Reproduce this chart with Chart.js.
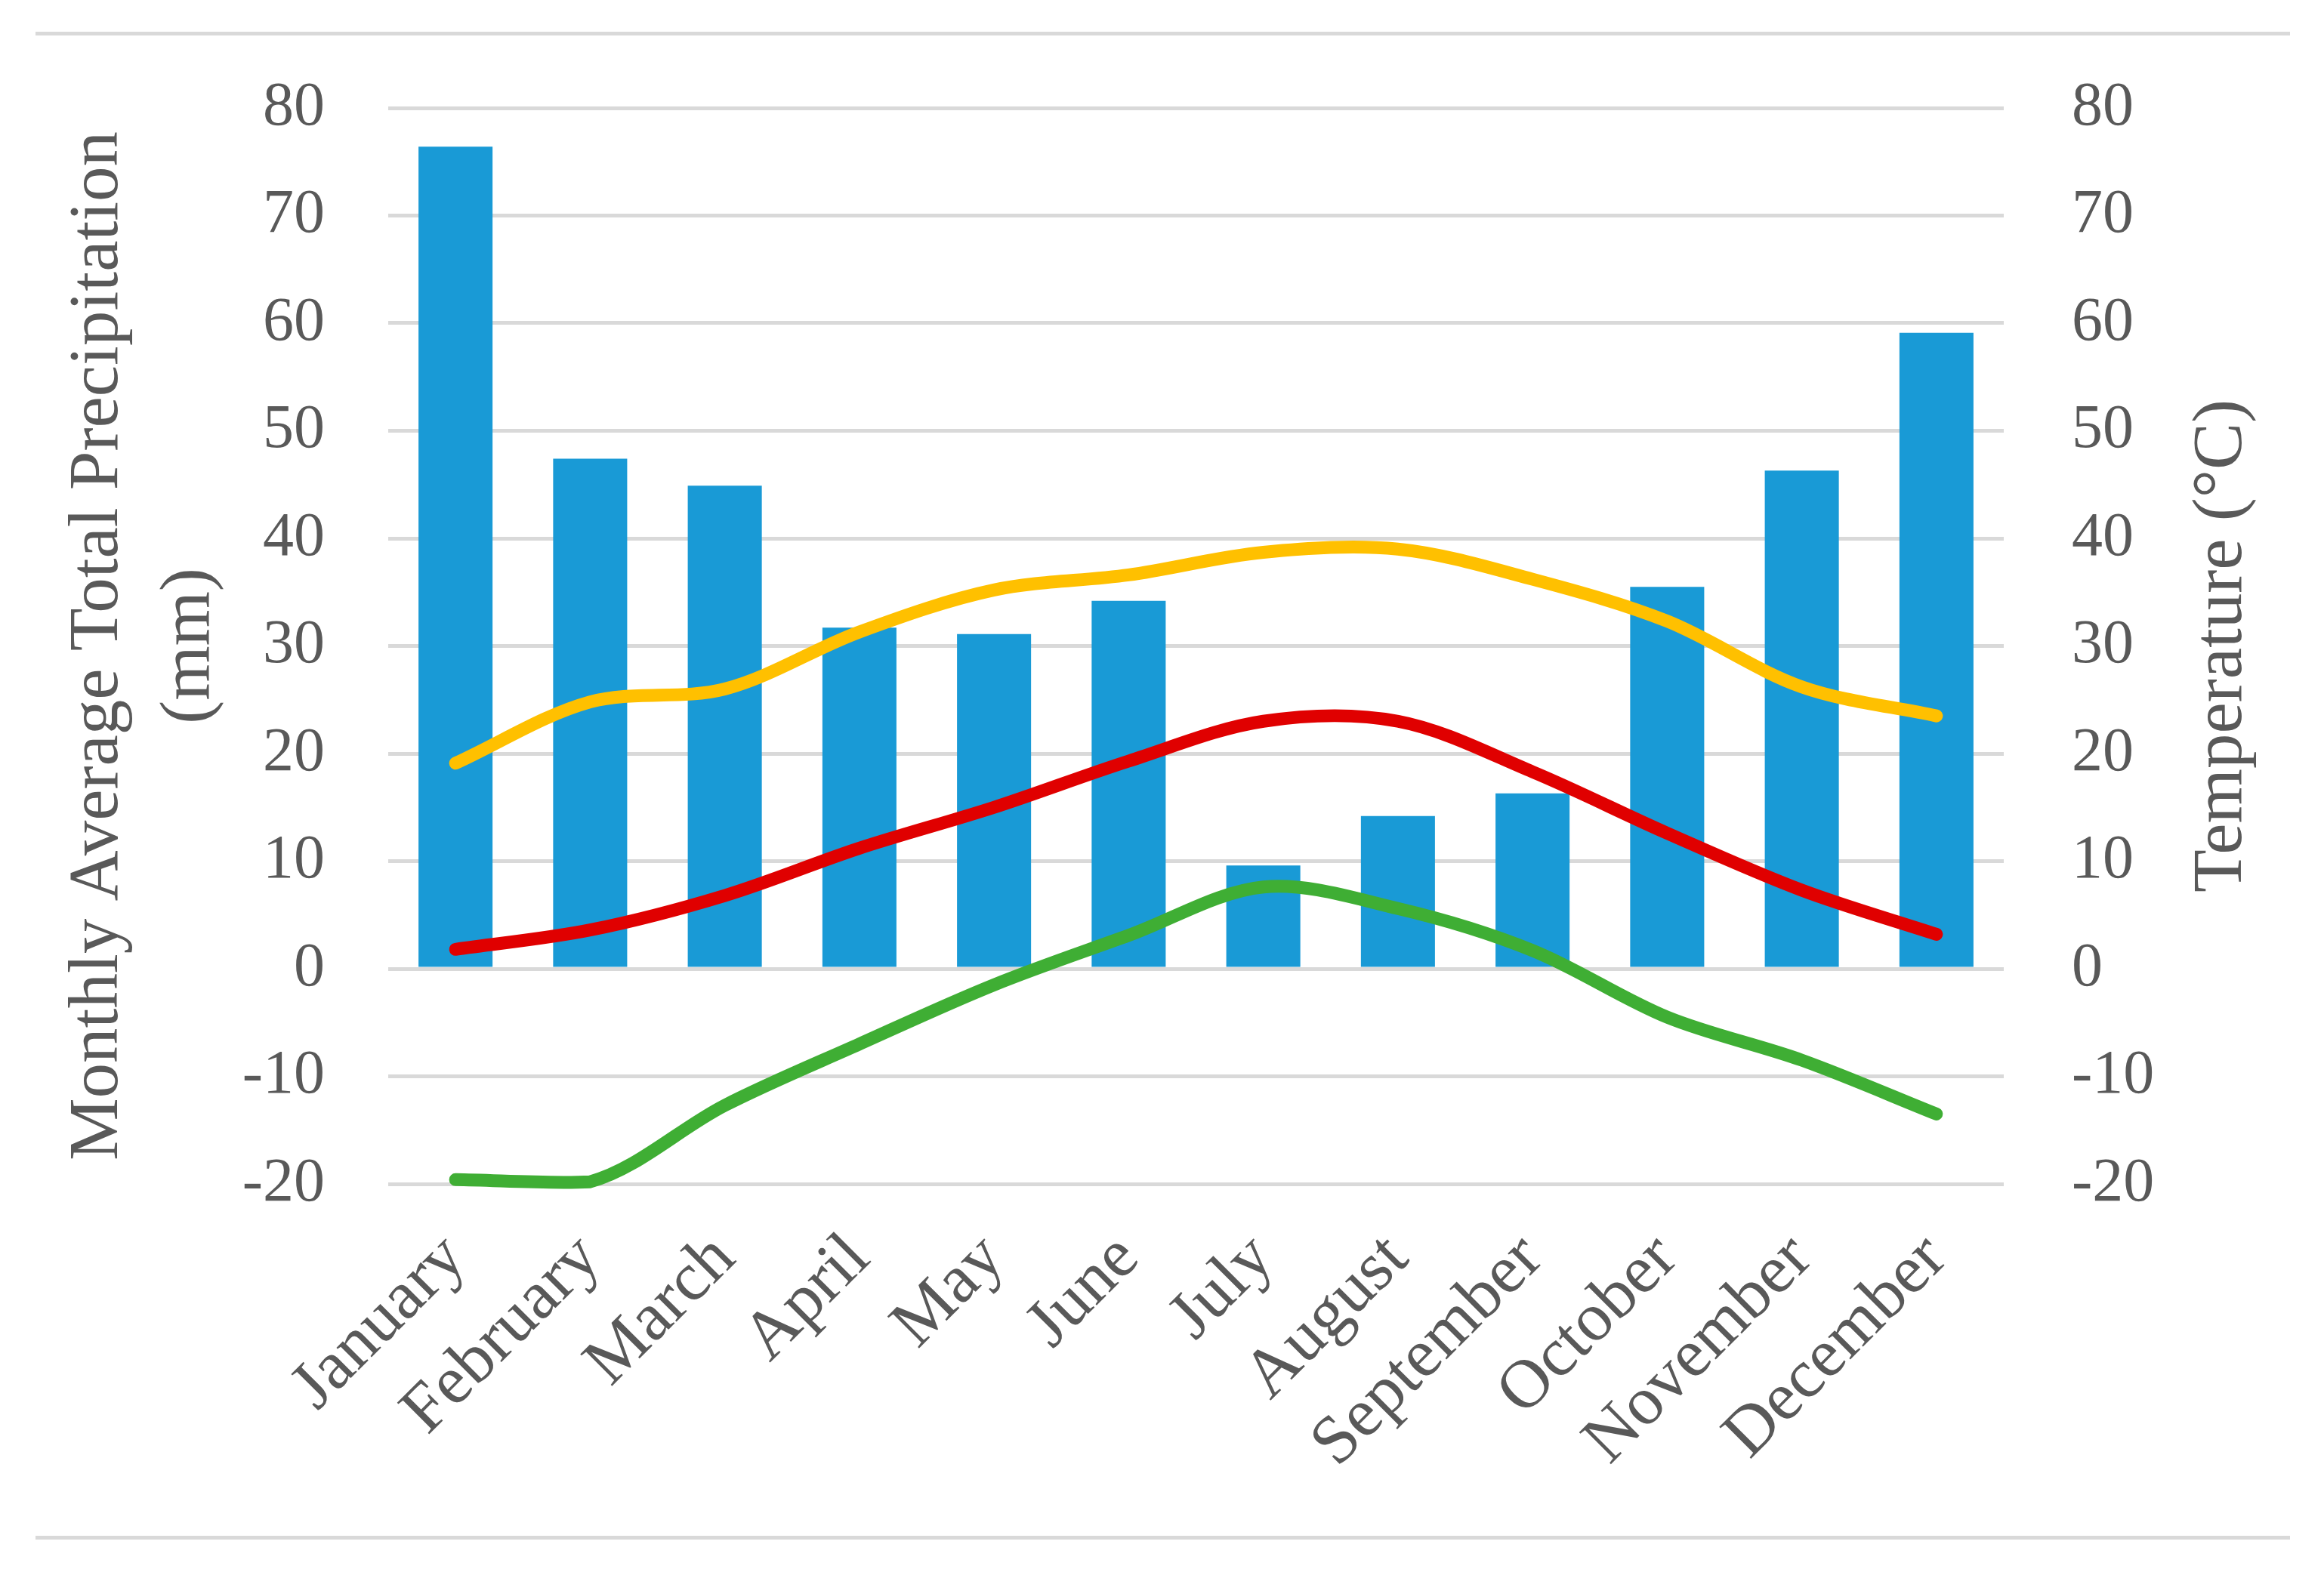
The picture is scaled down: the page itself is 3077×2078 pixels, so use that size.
<!DOCTYPE html>
<html>
<head>
<meta charset="utf-8">
<script src="https://cdn.jsdelivr.net/npm/chart.js@4/dist/chart.umd.min.js"></script>
<style>
  html, body { margin: 0; padding: 0; background: #fff; }
  #wrap { position: relative; width: 3077px; height: 2078px; }
  .rule { position: absolute; left: 47px; width: 2985px; height: 5px; background: #d9d9d9; }
</style>
</head>
<body>
<div id="wrap">
  <div class="rule" style="top:42px"></div>
  <div class="rule" style="top:2034px"></div>
  <canvas id="climate"></canvas>
</div>
<script>
// Данни (прочетени от графиката)
const months = ['January', 'February', 'March', 'April', 'May', 'June',
                'July', 'August', 'September', 'October', 'November', 'December'];
const precipitation = [76.4, 47.4, 44.9, 31.7, 31.1, 34.2, 9.6, 14.2, 16.3, 35.5, 46.3, 59.1];
const maxTemp  = [19.1, 24.8, 26.0, 31.3, 35.2, 36.6, 38.7, 39.0, 36.2, 32.3, 26.2, 23.5];
const meanTemp = [1.8, 3.6, 6.8, 11.2, 15.0, 19.3, 23.0, 23.0, 18.3, 12.6, 7.3, 3.2];
const minTemp  = [-19.6, -19.8, -12.7, -7.0, -1.5, 3.1, 7.6, 5.6, 1.7, -4.5, -8.5, -13.5];
const axisMin = -20, axisMax = 80, axisStep = 10;

const FONT = "'Liberation Serif', 'DejaVu Serif', serif";
const GREY = '#595959';

// надпис на дясната ос, завъртян отдолу нагоре (както в Excel)
const rightTitle = {
  id: 'rightTitle',
  afterDraw(chart) {
    const s = chart.scales.y1, ctx = chart.ctx;
    const ca = chart.chartArea;
    ctx.save();
    ctx.translate(s.left + 290, (ca.top + ca.bottom) / 2);
    ctx.rotate(-Math.PI / 2);
    ctx.font = '93px ' + FONT;
    ctx.fillStyle = GREY;
    ctx.textAlign = 'center';
    ctx.textBaseline = 'middle';
    ctx.fillText('Temperature (°C)', 0, 0);
    ctx.restore();
  }
};

function lineSet(data, color, order) {
  return {
    type: 'line', data, yAxisID: 'y1', order,
    borderColor: color, backgroundColor: color,
    borderWidth: 17, borderCapStyle: 'round', borderJoinStyle: 'round',
    pointRadius: 0, tension: 0.33, fill: false, clip: false
  };
}

new Chart(document.getElementById('climate'), {
  data: {
    labels: months,
    datasets: [
      lineSet(maxTemp, '#ffc000', 1),
      lineSet(meanTemp, '#e00000', 2),
      lineSet(minTemp, '#3fae34', 3),
      {
        type: 'bar', data: precipitation, yAxisID: 'y', order: 4,
        backgroundColor: '#199ad6',
        categoryPercentage: 1, barPercentage: 0.55
      }
    ]
  },
  options: {
    responsive: true,
    maintainAspectRatio: false,
    devicePixelRatio: 1,
    animation: false,
    layout: { padding: { top: 143, left: 0, right: 0, bottom: 0 } },
    plugins: { legend: { display: false }, tooltip: { enabled: false } },
    scales: {
      x: {
        grid: { display: false },
        border: { display: false },
        ticks: {
          color: GREY, font: { family: FONT, size: 91 },
          minRotation: 45, maxRotation: 45, autoSkip: false, padding: 38
        },
        afterFit: s => { s.height = 2078 - 1568; }
      },
      y: {
        position: 'left',
        min: axisMin, max: axisMax,
        grid: { color: '#d9d9d9', lineWidth: 5, drawTicks: false },
        border: { display: false },
        ticks: { stepSize: axisStep, color: GREY, font: { family: FONT, size: 82 }, padding: 84 },
        title: {
          display: true,
          text: ['Monthly Average Total Precipitation', '(mm)'],
          color: GREY,
          font: { family: FONT, size: 93, lineHeight: 1.3 },
          padding: { top: 70, bottom: 0 }
        },
        afterFit: s => { s.width = 514; }
      },
      y1: {
        position: 'right',
        min: axisMin, max: axisMax,
        grid: { display: false, drawTicks: false },
        border: { display: false },
        ticks: { stepSize: axisStep, color: GREY, font: { family: FONT, size: 82 }, padding: 90 },
        afterFit: s => { s.width = 3077 - 2653; }
      }
    }
  },
  plugins: [rightTitle]
});
</script>
</body>
</html>
